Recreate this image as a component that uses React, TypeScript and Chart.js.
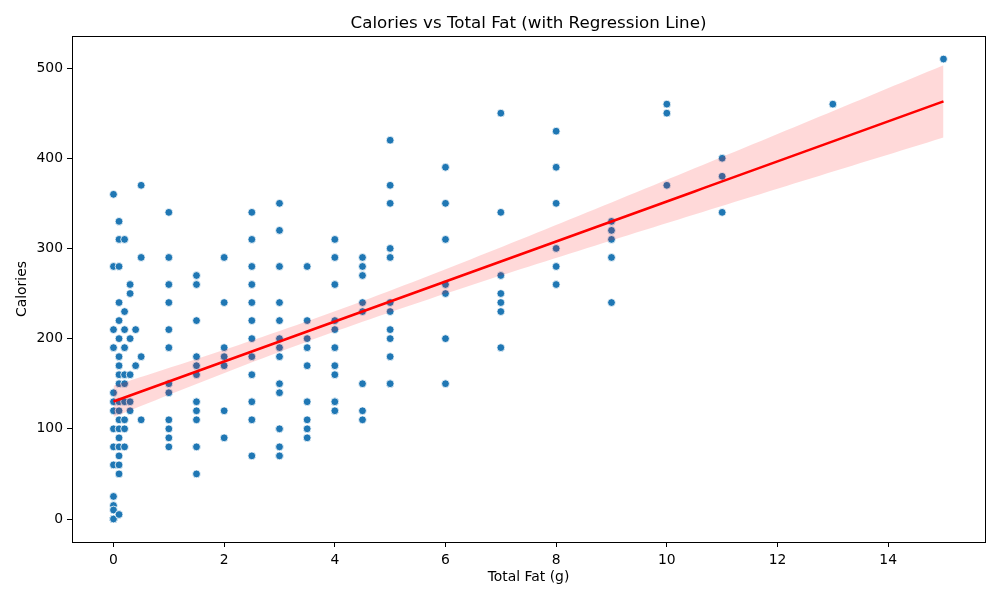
import { useEffect, useRef } from "react";
import { Chart, registerables } from "chart.js";

Chart.register(...registerables);

// Total fat levels (g) and the calorie values of the items at each level
// (repeated values are menu items that share the same fat/calorie pair)
const fatLevels = [0, 0.1, 0.2, 0.3, 0.4, 0.5, 1, 1.5, 2, 2.5, 3, 3.5, 4, 4.5, 5, 6, 7, 8, 9, 10, 11, 13, 15];
const caloriesByFat = [
  [360, 280, 210, 190, 140, 130, 120, 100, 80, 60, 25, 15, 10, 0, 0, 0, 0, 0, 0, 0],
  [330, 310, 280, 240, 220, 200, 180, 170, 160, 150, 130, 120, 110, 100, 90, 80, 70, 60, 50, 5],
  [310, 230, 210, 190, 160, 150, 130, 110, 100, 80],
  [260, 250, 200, 160, 130, 120],
  [210, 170],
  [370, 290, 180, 110],
  [340, 290, 260, 240, 210, 190, 150, 140, 110, 100, 90, 80],
  [270, 260, 220, 180, 170, 160, 130, 120, 110, 80, 80, 50],
  [290, 240, 190, 180, 170, 120, 90, 90],
  [340, 310, 280, 260, 240, 220, 200, 180, 160, 130, 110, 110, 70, 70],
  [350, 320, 280, 240, 220, 200, 190, 180, 150, 140, 100, 100, 80, 80, 70, 70],
  [280, 220, 200, 190, 170, 130, 110, 100, 100, 90, 90],
  [310, 290, 260, 220, 210, 190, 170, 160, 130, 130, 120, 120],
  [290, 280, 270, 240, 230, 150, 120, 110],
  [420, 370, 350, 300, 290, 240, 230, 210, 200, 180, 150, 150],
  [390, 350, 310, 260, 250, 200, 150],
  [450, 340, 270, 250, 240, 230, 190],
  [430, 390, 350, 300, 280, 260],
  [330, 320, 310, 290, 240],
  [460, 450, 370],
  [400, 380, 340],
  [460],
  [510],
];

const xTicks = [0, 2, 4, 6, 8, 10, 12, 14];
const yTicks = [0, 100, 200, 300, 400, 500];

const FONT = "'DejaVu Sans', sans-serif";

type Pt = { x: number; y: number };

function buildPoints(): Pt[] {
  const pts: Pt[] = [];
  fatLevels.forEach((fat, i) => {
    caloriesByFat[i].forEach((cal) => pts.push({ x: fat, y: cal }));
  });
  return pts;
}

// Least squares fit; the 95% band uses a heteroscedasticity-robust
// (sandwich) variance, the analytic counterpart of a pairs bootstrap
function fitRegression(pts: Pt[]) {
  const n = pts.length;
  const mx = pts.reduce((s, p) => s + p.x, 0) / n;
  const my = pts.reduce((s, p) => s + p.y, 0) / n;
  let sxx = 0;
  let sxy = 0;
  pts.forEach((p) => {
    sxx += (p.x - mx) ** 2;
    sxy += (p.x - mx) * (p.y - my);
  });
  const slope = sxy / sxx;
  const intercept = my - slope * mx;
  let b00 = 0;
  let b01 = 0;
  let b11 = 0;
  pts.forEach((p) => {
    const u = p.x - mx;
    const e2 = (p.y - (intercept + slope * p.x)) ** 2;
    b00 += e2;
    b01 += u * e2;
    b11 += u * u * e2;
  });
  const v00 = b00 / (n * n);
  const v01 = b01 / (n * sxx);
  const v11 = b11 / (sxx * sxx);
  const z = 1.96;
  const xmin = Math.min(...pts.map((p) => p.x));
  const xmax = Math.max(...pts.map((p) => p.x));
  const line: Pt[] = [];
  const upper: Pt[] = [];
  const lower: Pt[] = [];
  const steps = 100;
  for (let k = 0; k <= steps; k++) {
    const x = xmin + ((xmax - xmin) * k) / steps;
    const u = x - mx;
    const yhat = intercept + slope * x;
    const half = z * Math.sqrt(v00 + 2 * u * v01 + u * u * v11);
    line.push({ x, y: yhat });
    upper.push({ x, y: yhat + half });
    lower.push({ x, y: yhat - half });
  }
  return { line, upper, lower };
}

const framePlugin = {
  id: "frame",
  afterDatasetsDraw(chart: any) {
    const { ctx, chartArea } = chart;
    ctx.save();
    ctx.strokeStyle = "#000";
    ctx.lineWidth = 1;
    ctx.strokeRect(
      Math.round(chartArea.left) + 0.5,
      Math.round(chartArea.top) + 0.5,
      Math.round(chartArea.right - chartArea.left),
      Math.round(chartArea.bottom - chartArea.top)
    );
    ctx.restore();
  },
};

export default function App() {
  const canvasRef = useRef<HTMLCanvasElement | null>(null);

  useEffect(() => {
    if (!canvasRef.current) return;
    const pts = buildPoints();
    const fit = fitRegression(pts);
    const xs = pts.map((p) => p.x);
    const ys = pts.map((p) => p.y);
    const xPad = (Math.max(...xs) - Math.min(...xs)) * 0.05;
    const yPad = (Math.max(...ys) - Math.min(...ys)) * 0.05;

    const tickFont = { family: FONT, size: 13.9 };
    const labelFont = { family: FONT, size: 13.9 };

    const chart = new Chart(canvasRef.current, {
      type: "scatter",
      data: {
        datasets: [
          {
            type: "line",
            data: fit.line,
            borderColor: "#ff0000",
            borderWidth: 2.6,
            pointRadius: 0,
            fill: false,
            order: 0,
          } as any,
          {
            type: "line",
            data: fit.upper,
            borderWidth: 0,
            borderColor: "rgba(0,0,0,0)",
            backgroundColor: "rgba(255,0,0,0.15)",
            pointRadius: 0,
            fill: "+1",
            order: 1,
          } as any,
          {
            type: "line",
            data: fit.lower,
            borderWidth: 0,
            borderColor: "rgba(0,0,0,0)",
            pointRadius: 0,
            fill: false,
            order: 1,
          } as any,
          {
            data: pts,
            backgroundColor: "#1f77b4",
            borderColor: "#ffffff",
            borderWidth: 0.8,
            pointRadius: 3.9,
            order: 2,
          },
        ],
      },
      options: {
        animation: false,
        responsive: false,
        devicePixelRatio: 1,
        layout: { padding: { top: 0, right: 15, bottom: 0, left: 0 } },
        plugins: {
          legend: { display: false },
          tooltip: { enabled: false },
          title: {
            display: true,
            text: "Calories vs Total Fat (with Regression Line)",
            color: "#000",
            fullSize: false,
            font: { family: FONT, size: 16.7, weight: "normal" },
            padding: { top: 14, bottom: 2 },
          },
        },
        scales: {
          x: {
            type: "linear",
            min: Math.min(...xs) - xPad,
            max: Math.max(...xs) + xPad,
            afterBuildTicks: (scale: any) => {
              scale.ticks = xTicks.map((v) => ({ value: v }));
            },
            afterFit: (scale: any) => {
              scale.height = 58;
            },
            grid: { drawOnChartArea: false, drawTicks: true, tickLength: 5, color: "#000", lineWidth: 1 },
            border: { display: true, color: "#000", width: 1 },
            ticks: { color: "#000", font: tickFont, padding: 5, maxRotation: 0, autoSkip: false },
            title: {
              display: true,
              text: "Total Fat (g)",
              color: "#000",
              font: labelFont,
              padding: { top: 0, bottom: 14 },
            },
          },
          y: {
            type: "linear",
            min: Math.min(...ys) - yPad,
            max: Math.max(...ys) + yPad,
            afterBuildTicks: (scale: any) => {
              scale.ticks = yTicks.map((v) => ({ value: v }));
            },
            afterFit: (scale: any) => {
              scale.width = 72;
            },
            grid: { drawOnChartArea: false, drawTicks: true, tickLength: 5, color: "#000", lineWidth: 1 },
            border: { display: true, color: "#000", width: 1 },
            ticks: { color: "#000", font: tickFont, padding: 4, autoSkip: false },
            title: {
              display: true,
              text: "Calories",
              color: "#000",
              font: labelFont,
              padding: { top: 13.6, bottom: 0 },
            },
          },
        },
      },
      plugins: [framePlugin],
    });
    return () => chart.destroy();
  }, []);

  return (
    <div style={{ position: "absolute", left: 0, top: 0, width: 1000, height: 600, background: "#fff" }}>
      <canvas ref={canvasRef} width={1000} height={600} />
    </div>
  );
}
